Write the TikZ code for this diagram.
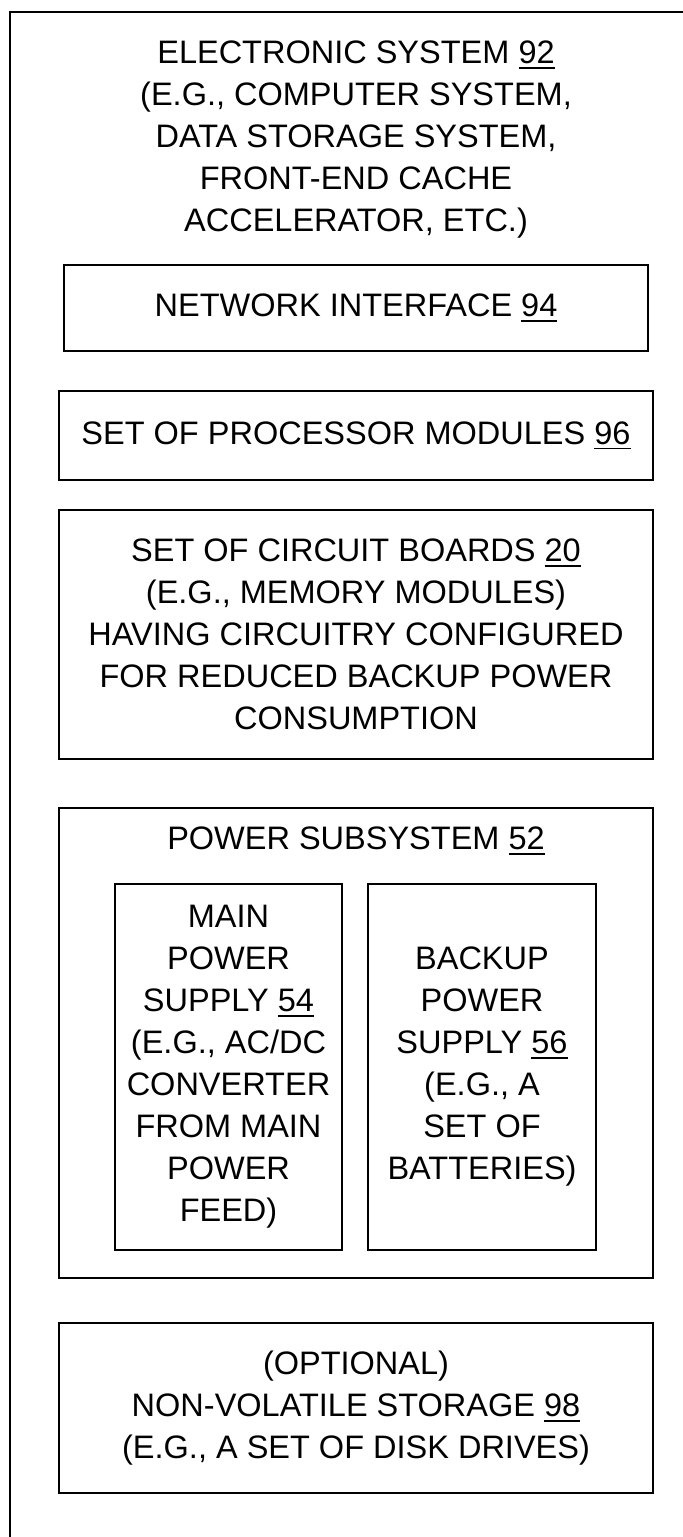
\documentclass[tikz,border=0pt]{standalone}
\usepackage{fontspec}
\setmainfont{Liberation Sans}
\usetikzlibrary{positioning}
\tikzset{
  blk/.style    = {draw, line width=1.4pt, inner sep=0pt, align=center},
  wide/.style   = {blk, minimum width=297pt},
  supply/.style = {blk, minimum width=114pt, minimum height=183pt},
  lab/.style    = {align=center, inner sep=0pt},
}
% reference numerals are underlined
\newcommand{\refno}[1]{\setbox0=\hbox{#1}\rlap{\rule[-2.6pt]{\wd0}{0.9pt}}\box0}

\begin{document}
\begin{tikzpicture}[x=0.5pt, y=-0.5pt, every node/.style={font=\fontsize{16.25}{21}\selectfont}]
\useasboundingbox (0,0) rectangle (683,1537);
% the system box runs off the right and the bottom of the sheet
\draw[line width=1.4pt] (10,1600) |- (760,12);
\node[lab] (sys) at (356,140) {ELECTRONIC SYSTEM \refno{92}\\(E.G., COMPUTER SYSTEM,\\DATA STORAGE SYSTEM,\\FRONT-END CACHE\\ACCELERATOR, ETC.)};
\node[wide, minimum width=292pt, minimum height=43pt] (net) at (356,308) {NETWORK INTERFACE \refno{94}};
\node[wide, minimum height=44.5pt] (cpu) at (356,435.5) {SET OF PROCESSOR MODULES \refno{96}};
\node[wide, minimum height=124.5pt] (brd) at (356,634.5) {SET OF CIRCUIT BOARDS \refno{20}\\(E.G., MEMORY MODULES)\\HAVING CIRCUITRY CONFIGURED\\FOR REDUCED BACKUP POWER\\CONSUMPTION};
\node[wide, minimum height=235pt] (pwr) at (356,1043) {};
\node[lab] (pwrlab) at (356,841) {POWER SUBSYSTEM \refno{52}};
\node[supply, minimum width=113.5pt] (mainps) at (228.5,1067) {MAIN\\POWER\\SUPPLY \refno{54}\\(E.G., AC/DC\\CONVERTER\\FROM MAIN\\POWER\\FEED)};
\node[supply] (bkps) at (482,1067) {BACKUP\\POWER\\SUPPLY \refno{56}\\(E.G., A\\SET OF\\BATTERIES)};
\node[wide, minimum height=85pt] (nvs) at (356,1408) {(OPTIONAL)\\NON-VOLATILE STORAGE \refno{98}\\(E.G., A SET OF DISK DRIVES)};
\end{tikzpicture}
\end{document}
